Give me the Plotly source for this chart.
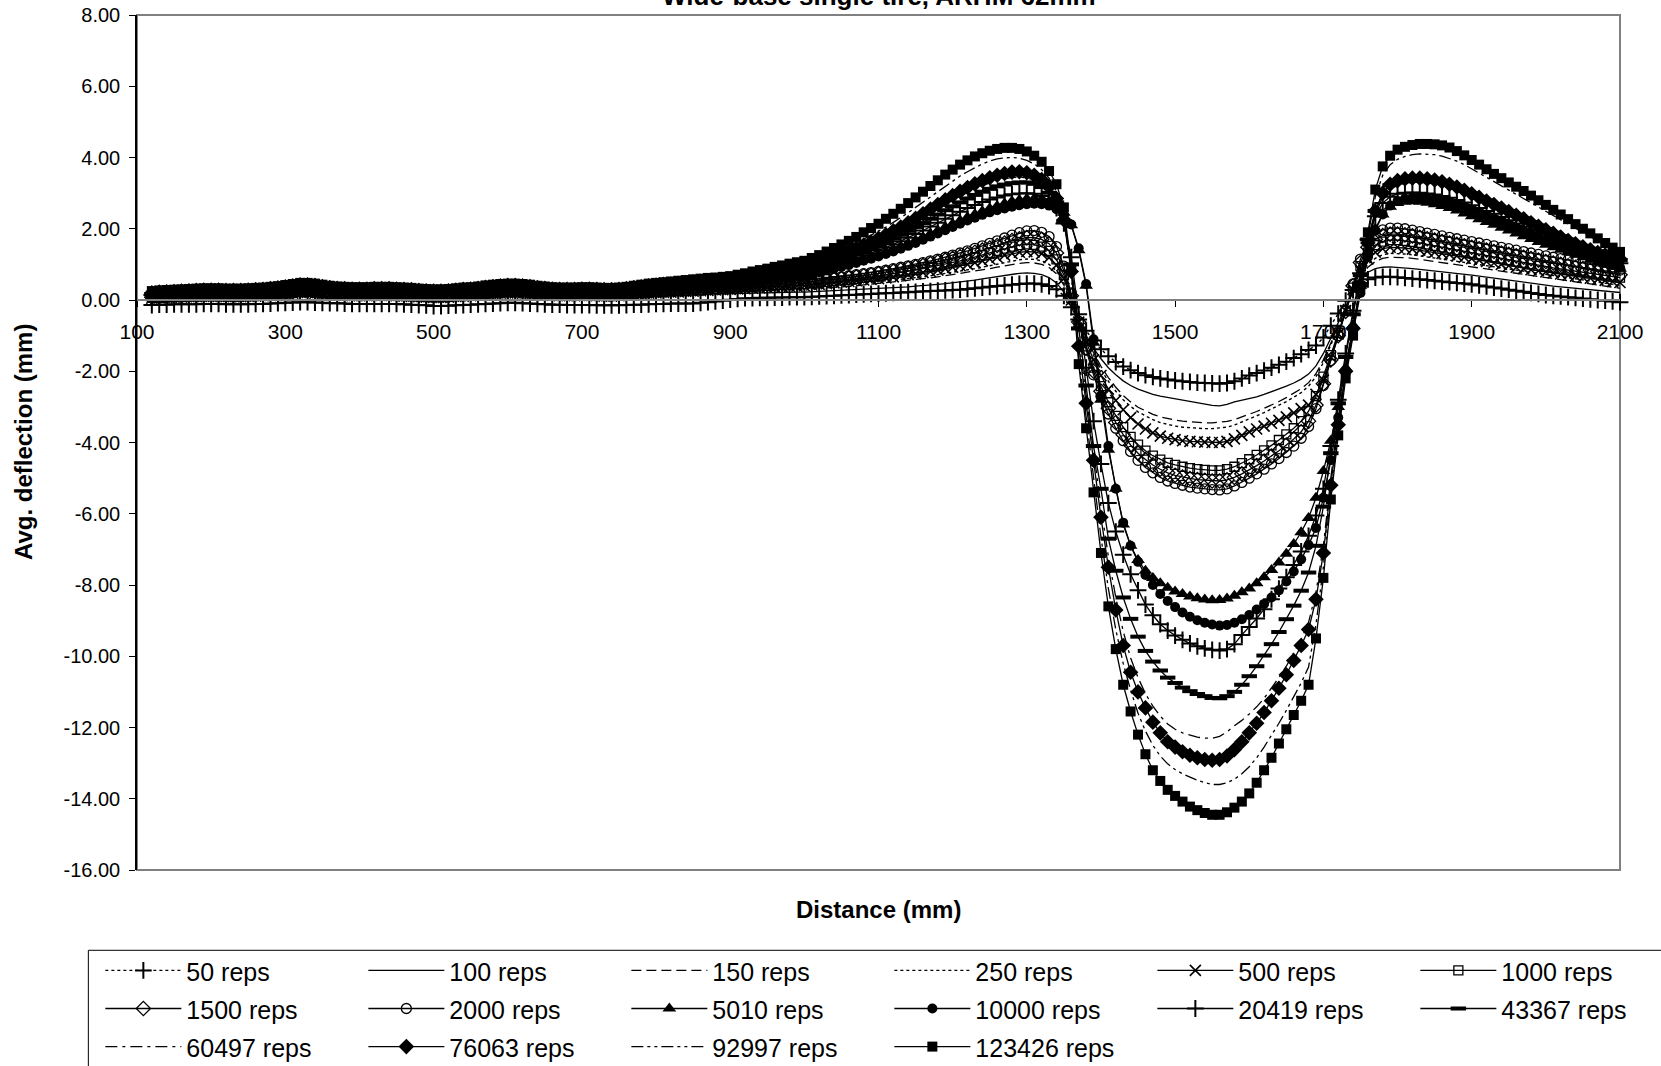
import plotly.graph_objects as go

# ---------------- data ----------------
distance_mm = [120, 130, 140, 150, 160, 170, 180, 190, 200,
               210, 220, 230, 240, 250, 260, 270, 280, 290, 300,
               310, 320, 330, 340, 350, 360, 370, 380, 390, 400,
               410, 420, 430, 440, 450, 460, 470, 480, 490, 500,
               510, 520, 530, 540, 550, 560, 570, 580, 590, 600,
               610, 620, 630, 640, 650, 660, 670, 680, 690, 700,
               710, 720, 730, 740, 750, 760, 770, 780, 790, 800,
               810, 820, 830, 840, 850, 860, 870, 880, 890, 900,
               910, 920, 930, 940, 950, 960, 970, 980, 990,
               1000, 1010, 1020, 1030, 1040, 1050, 1060, 1070, 1080, 1090, 1100, 1110, 1120, 1130, 1140, 1150, 1160,
               1170, 1180, 1190, 1200, 1210, 1220, 1230, 1240, 1250, 1260, 1270, 1280, 1290, 1300, 1310, 1320, 1330,
               1340, 1350, 1360, 1370, 1380, 1390, 1400, 1410, 1420, 1430, 1440, 1450, 1460, 1470, 1480, 1490, 1500,
               1510, 1520, 1530, 1540, 1550, 1560, 1570, 1580, 1590, 1600, 1610, 1620, 1630, 1640, 1650, 1660, 1670,
               1680, 1690, 1700, 1710, 1720, 1730, 1740, 1750, 1760, 1770, 1780, 1790, 1800, 1810, 1820, 1830, 1840,
               1850, 1860, 1870, 1880, 1890, 1900, 1910, 1920, 1930, 1940, 1950, 1960, 1970, 1980, 1990, 2000, 2010,
               2020, 2030, 2040, 2050, 2060, 2070, 2080, 2090, 2100]

reps_50 = [-0.14, -0.13, -0.13, -0.12, -0.12, -0.12, -0.12, -0.11, -0.11,
           -0.11, -0.12, -0.12, -0.12, -0.12, -0.11, -0.11, -0.10, -0.09, -0.08,
           -0.07, -0.06, -0.06, -0.07, -0.08, -0.09, -0.09, -0.10, -0.11, -0.11,
           -0.11, -0.11, -0.11, -0.11, -0.11, -0.12, -0.13, -0.14, -0.15, -0.17,
           -0.17, -0.16, -0.15, -0.14, -0.13, -0.12, -0.11, -0.10, -0.09, -0.08,
           -0.08, -0.09, -0.10, -0.11, -0.12, -0.13, -0.13, -0.14, -0.14, -0.14,
           -0.14, -0.15, -0.15, -0.15, -0.15, -0.14, -0.13, -0.13, -0.12, -0.11,
           -0.11, -0.10, -0.10, -0.10, -0.10, -0.08, -0.06, -0.04, -0.02, 0.01,
           0.03, 0.05, 0.05, 0.06, 0.06, 0.07, 0.07, 0.08, 0.08,
           0.08, 0.09, 0.10, 0.11, 0.12, 0.13, 0.14, 0.15, 0.16, 0.17,
           0.18, 0.19, 0.20, 0.21, 0.22, 0.23, 0.24, 0.25, 0.26, 0.27,
           0.28, 0.29, 0.31, 0.33, 0.35, 0.37, 0.39, 0.41, 0.43, 0.45,
           0.46, 0.46, 0.44, 0.39, 0.30, 0.12, -0.20, -0.55, -0.86, -1.14,
           -1.38, -1.58, -1.74, -1.87, -1.97, -2.05, -2.11, -2.16, -2.20, -2.23,
           -2.26, -2.28, -2.30, -2.32, -2.33, -2.34, -2.35, -2.33, -2.28, -2.20,
           -2.12, -2.05, -1.98, -1.90, -1.82, -1.73, -1.63, -1.52, -1.40, -1.28,
           -1.05, -0.72, -0.38, -0.02, 0.28, 0.48, 0.58, 0.63, 0.65, 0.65,
           0.64, 0.62, 0.60, 0.58, 0.56, 0.54, 0.52, 0.50, 0.48, 0.46,
           0.44, 0.41, 0.38, 0.35, 0.32, 0.29, 0.26, 0.23, 0.20, 0.17,
           0.14, 0.12, 0.10, 0.08, 0.06, 0.04, 0.02, 0.00, -0.02, -0.04,
           -0.06]

reps_100 = [-0.02, -0.01, 0.00, 0.01, 0.01, 0.02, 0.02, 0.03, 0.03,
            0.03, 0.02, 0.02, 0.02, 0.03, 0.04, 0.05, 0.06, 0.07, 0.08,
            0.10, 0.11, 0.11, 0.10, 0.09, 0.08, 0.07, 0.06, 0.05, 0.05,
            0.05, 0.06, 0.06, 0.06, 0.05, 0.04, 0.03, 0.02, 0.01, 0.00,
            0.00, 0.01, 0.03, 0.04, 0.05, 0.07, 0.08, 0.09, 0.10, 0.11,
            0.11, 0.10, 0.09, 0.08, 0.07, 0.06, 0.05, 0.05, 0.05, 0.06,
            0.06, 0.05, 0.04, 0.04, 0.05, 0.06, 0.07, 0.08, 0.10, 0.11,
            0.12, 0.13, 0.14, 0.15, 0.15, 0.16, 0.16, 0.17, 0.17, 0.18,
            0.18, 0.19, 0.19, 0.20, 0.20, 0.21, 0.21, 0.22, 0.22,
            0.22, 0.23, 0.24, 0.25, 0.26, 0.27, 0.28, 0.29, 0.30, 0.31,
            0.32, 0.33, 0.34, 0.36, 0.37, 0.39, 0.40, 0.42, 0.44, 0.46,
            0.48, 0.50, 0.53, 0.56, 0.59, 0.62, 0.66, 0.70, 0.73, 0.75,
            0.76, 0.75, 0.71, 0.63, 0.48, 0.22, -0.20, -0.62, -1.00, -1.35,
            -1.65, -1.90, -2.10, -2.27, -2.40, -2.50, -2.58, -2.65, -2.70, -2.74,
            -2.78, -2.82, -2.86, -2.90, -2.93, -2.96, -2.97, -2.93, -2.86, -2.82,
            -2.78, -2.72, -2.65, -2.58, -2.50, -2.42, -2.33, -2.22, -2.08, -1.85,
            -1.50, -1.08, -0.64, -0.20, 0.22, 0.56, 0.78, 0.88, 0.92, 0.93,
            0.92, 0.90, 0.88, 0.86, 0.84, 0.82, 0.80, 0.78, 0.76, 0.73,
            0.70, 0.67, 0.64, 0.61, 0.58, 0.55, 0.52, 0.49, 0.46, 0.43,
            0.41, 0.39, 0.37, 0.35, 0.33, 0.31, 0.29, 0.27, 0.25, 0.23,
            0.21]

reps_150 = [0.02, 0.03, 0.04, 0.05, 0.05, 0.06, 0.06, 0.07, 0.07,
            0.07, 0.06, 0.06, 0.06, 0.07, 0.08, 0.09, 0.10, 0.11, 0.12,
            0.14, 0.16, 0.16, 0.15, 0.13, 0.12, 0.11, 0.10, 0.09, 0.09,
            0.09, 0.10, 0.10, 0.10, 0.09, 0.08, 0.07, 0.06, 0.05, 0.04,
            0.04, 0.05, 0.07, 0.08, 0.09, 0.10, 0.12, 0.13, 0.14, 0.15,
            0.15, 0.14, 0.13, 0.12, 0.11, 0.10, 0.09, 0.09, 0.09, 0.10,
            0.10, 0.09, 0.08, 0.08, 0.09, 0.10, 0.12, 0.13, 0.15, 0.16,
            0.17, 0.18, 0.19, 0.20, 0.20, 0.21, 0.21, 0.22, 0.23, 0.24,
            0.24, 0.25, 0.25, 0.26, 0.27, 0.27, 0.28, 0.29, 0.29,
            0.30, 0.31, 0.32, 0.34, 0.35, 0.37, 0.38, 0.40, 0.42, 0.44,
            0.46, 0.48, 0.50, 0.52, 0.54, 0.56, 0.59, 0.62, 0.65, 0.68,
            0.71, 0.74, 0.77, 0.80, 0.84, 0.88, 0.92, 0.96, 1.00, 1.03,
            1.05, 1.04, 1.00, 0.91, 0.74, 0.42, -0.08, -0.58, -1.05, -1.48,
            -1.86, -2.18, -2.45, -2.68, -2.86, -3.01, -3.12, -3.21, -3.28, -3.33,
            -3.37, -3.40, -3.42, -3.44, -3.45, -3.45, -3.44, -3.41, -3.36, -3.29,
            -3.21, -3.13, -3.04, -2.95, -2.85, -2.74, -2.62, -2.49, -2.32, -2.07,
            -1.68, -1.22, -0.74, -0.24, 0.25, 0.66, 0.92, 1.08, 1.17, 1.20,
            1.20, 1.19, 1.17, 1.14, 1.11, 1.08, 1.05, 1.02, 0.99, 0.96,
            0.93, 0.90, 0.87, 0.84, 0.81, 0.78, 0.75, 0.72, 0.69, 0.66,
            0.63, 0.60, 0.57, 0.54, 0.51, 0.48, 0.45, 0.42, 0.39, 0.36,
            0.33]

reps_250 = [0.03, 0.04, 0.05, 0.06, 0.06, 0.07, 0.07, 0.08, 0.08,
            0.08, 0.07, 0.07, 0.07, 0.08, 0.09, 0.10, 0.11, 0.12, 0.14,
            0.16, 0.18, 0.18, 0.17, 0.15, 0.14, 0.12, 0.11, 0.10, 0.10,
            0.10, 0.11, 0.11, 0.11, 0.10, 0.09, 0.08, 0.07, 0.06, 0.05,
            0.05, 0.06, 0.08, 0.09, 0.10, 0.12, 0.13, 0.15, 0.16, 0.17,
            0.17, 0.16, 0.15, 0.14, 0.12, 0.11, 0.10, 0.10, 0.10, 0.11,
            0.11, 0.10, 0.09, 0.09, 0.10, 0.12, 0.13, 0.15, 0.17, 0.18,
            0.19, 0.20, 0.21, 0.22, 0.23, 0.24, 0.24, 0.25, 0.26, 0.27,
            0.28, 0.29, 0.29, 0.30, 0.31, 0.32, 0.33, 0.34, 0.34,
            0.35, 0.36, 0.37, 0.39, 0.40, 0.42, 0.43, 0.45, 0.47, 0.49,
            0.51, 0.53, 0.55, 0.57, 0.60, 0.62, 0.65, 0.68, 0.71, 0.74,
            0.77, 0.80, 0.84, 0.88, 0.92, 0.96, 1.00, 1.05, 1.10, 1.13,
            1.15, 1.14, 1.10, 1.00, 0.82, 0.48, -0.05, -0.60, -1.10, -1.55,
            -1.95, -2.28, -2.56, -2.80, -2.99, -3.14, -3.26, -3.36, -3.44, -3.50,
            -3.54, -3.57, -3.59, -3.60, -3.61, -3.61, -3.60, -3.57, -3.51, -3.43,
            -3.34, -3.25, -3.16, -3.06, -2.96, -2.85, -2.73, -2.60, -2.42, -2.15,
            -1.75, -1.28, -0.78, -0.25, 0.28, 0.72, 1.00, 1.17, 1.27, 1.31,
            1.31, 1.29, 1.27, 1.24, 1.21, 1.18, 1.15, 1.12, 1.09, 1.06,
            1.02, 0.98, 0.95, 0.92, 0.89, 0.86, 0.83, 0.80, 0.77, 0.74,
            0.71, 0.68, 0.65, 0.62, 0.59, 0.56, 0.53, 0.50, 0.47, 0.44,
            0.41]

reps_500 = [0.05, 0.06, 0.07, 0.08, 0.08, 0.09, 0.09, 0.10, 0.10,
            0.10, 0.09, 0.09, 0.09, 0.10, 0.11, 0.12, 0.13, 0.15, 0.17,
            0.19, 0.21, 0.21, 0.19, 0.17, 0.16, 0.14, 0.13, 0.12, 0.12,
            0.12, 0.13, 0.13, 0.13, 0.12, 0.11, 0.10, 0.09, 0.08, 0.07,
            0.07, 0.08, 0.10, 0.11, 0.12, 0.14, 0.16, 0.18, 0.19, 0.20,
            0.20, 0.19, 0.17, 0.16, 0.14, 0.13, 0.12, 0.12, 0.12, 0.13,
            0.13, 0.12, 0.11, 0.11, 0.12, 0.14, 0.15, 0.17, 0.19, 0.20,
            0.21, 0.22, 0.23, 0.24, 0.25, 0.26, 0.27, 0.28, 0.29, 0.30,
            0.31, 0.32, 0.33, 0.34, 0.35, 0.36, 0.37, 0.38, 0.39,
            0.40, 0.42, 0.44, 0.46, 0.48, 0.50, 0.52, 0.54, 0.56, 0.58,
            0.60, 0.62, 0.65, 0.68, 0.71, 0.74, 0.77, 0.80, 0.84, 0.88,
            0.92, 0.96, 1.00, 1.05, 1.10, 1.15, 1.20, 1.26, 1.31, 1.34,
            1.36, 1.35, 1.30, 1.19, 0.98, 0.60, 0.00, -0.62, -1.18, -1.68,
            -2.12, -2.50, -2.82, -3.08, -3.30, -3.48, -3.62, -3.73, -3.82, -3.88,
            -3.92, -3.95, -3.97, -3.98, -3.99, -4.00, -4.00, -3.97, -3.90, -3.80,
            -3.70, -3.62, -3.54, -3.46, -3.38, -3.28, -3.17, -3.05, -2.95, -2.65,
            -2.25, -1.60, -0.95, -0.30, 0.30, 0.82, 1.15, 1.34, 1.44, 1.48,
            1.48, 1.46, 1.43, 1.40, 1.37, 1.34, 1.31, 1.28, 1.24, 1.20,
            1.16, 1.12, 1.08, 1.04, 1.00, 0.96, 0.92, 0.88, 0.85, 0.82,
            0.79, 0.76, 0.73, 0.70, 0.67, 0.64, 0.61, 0.58, 0.55, 0.52,
            0.49]

reps_1000 = [0.06, 0.07, 0.08, 0.09, 0.10, 0.11, 0.11, 0.12, 0.12,
             0.12, 0.11, 0.11, 0.11, 0.12, 0.13, 0.14, 0.15, 0.17, 0.19,
             0.21, 0.24, 0.24, 0.22, 0.20, 0.18, 0.16, 0.15, 0.14, 0.14,
             0.14, 0.15, 0.15, 0.15, 0.14, 0.13, 0.12, 0.11, 0.10, 0.09,
             0.09, 0.10, 0.12, 0.13, 0.14, 0.16, 0.18, 0.20, 0.22, 0.23,
             0.23, 0.22, 0.20, 0.18, 0.16, 0.15, 0.14, 0.14, 0.14, 0.15,
             0.15, 0.14, 0.13, 0.13, 0.14, 0.16, 0.18, 0.20, 0.22, 0.23,
             0.24, 0.25, 0.26, 0.27, 0.28, 0.29, 0.30, 0.31, 0.32, 0.33,
             0.35, 0.36, 0.37, 0.38, 0.40, 0.41, 0.42, 0.43, 0.44,
             0.45, 0.47, 0.49, 0.51, 0.53, 0.55, 0.57, 0.59, 0.62, 0.65,
             0.68, 0.71, 0.74, 0.77, 0.80, 0.84, 0.88, 0.92, 0.96, 1.00,
             1.05, 1.10, 1.15, 1.20, 1.26, 1.32, 1.38, 1.44, 1.50, 1.54,
             1.56, 1.55, 1.50, 1.38, 1.14, 0.70, 0.05, -0.65, -1.30, -1.90,
             -2.42, -2.87, -3.25, -3.57, -3.84, -4.06, -4.23, -4.37, -4.48, -4.57,
             -4.63, -4.68, -4.72, -4.75, -4.77, -4.78, -4.78, -4.75, -4.68, -4.58,
             -4.47, -4.35, -4.22, -4.08, -3.93, -3.77, -3.60, -3.40, -3.12, -2.70,
             -2.15, -1.55, -0.92, -0.30, 0.35, 0.95, 1.33, 1.54, 1.64, 1.68,
             1.68, 1.66, 1.63, 1.60, 1.56, 1.52, 1.48, 1.44, 1.40, 1.36,
             1.32, 1.28, 1.24, 1.20, 1.16, 1.12, 1.08, 1.04, 1.00, 0.96,
             0.93, 0.90, 0.87, 0.84, 0.81, 0.78, 0.75, 0.72, 0.69, 0.66,
             0.63]

reps_1500 = [0.08, 0.09, 0.10, 0.11, 0.12, 0.13, 0.13, 0.14, 0.14,
             0.14, 0.13, 0.13, 0.13, 0.14, 0.15, 0.16, 0.17, 0.19, 0.21,
             0.23, 0.26, 0.26, 0.24, 0.22, 0.20, 0.18, 0.17, 0.16, 0.16,
             0.16, 0.17, 0.17, 0.17, 0.16, 0.15, 0.14, 0.13, 0.12, 0.11,
             0.11, 0.12, 0.14, 0.15, 0.16, 0.18, 0.20, 0.22, 0.24, 0.25,
             0.25, 0.24, 0.22, 0.20, 0.18, 0.17, 0.16, 0.16, 0.16, 0.17,
             0.17, 0.16, 0.15, 0.15, 0.16, 0.18, 0.20, 0.22, 0.24, 0.26,
             0.27, 0.28, 0.29, 0.30, 0.31, 0.32, 0.34, 0.35, 0.36, 0.37,
             0.39, 0.40, 0.42, 0.43, 0.44, 0.45, 0.47, 0.48, 0.49,
             0.50, 0.52, 0.54, 0.56, 0.58, 0.60, 0.62, 0.65, 0.68, 0.71,
             0.74, 0.77, 0.81, 0.85, 0.89, 0.93, 0.97, 1.02, 1.07, 1.12,
             1.17, 1.22, 1.28, 1.34, 1.40, 1.46, 1.53, 1.60, 1.67, 1.72,
             1.75, 1.75, 1.70, 1.58, 1.32, 0.82, 0.12, -0.62, -1.35, -2.00,
             -2.56, -3.04, -3.44, -3.78, -4.07, -4.30, -4.48, -4.63, -4.75, -4.85,
             -4.92, -4.97, -5.01, -5.04, -5.06, -5.08, -5.08, -5.05, -4.98, -4.88,
             -4.77, -4.65, -4.52, -4.38, -4.23, -4.07, -3.90, -3.70, -3.40, -2.95,
             -2.35, -1.68, -1.00, -0.32, 0.40, 1.05, 1.48, 1.70, 1.81, 1.85,
             1.85, 1.83, 1.80, 1.76, 1.72, 1.68, 1.64, 1.60, 1.56, 1.52,
             1.48, 1.44, 1.40, 1.36, 1.32, 1.28, 1.24, 1.20, 1.16, 1.12,
             1.08, 1.04, 1.00, 0.96, 0.92, 0.88, 0.84, 0.80, 0.77, 0.74,
             0.71]

reps_2000 = [0.10, 0.11, 0.12, 0.13, 0.14, 0.15, 0.15, 0.16, 0.16,
             0.16, 0.15, 0.15, 0.15, 0.16, 0.17, 0.18, 0.19, 0.21, 0.23,
             0.25, 0.28, 0.28, 0.26, 0.24, 0.22, 0.20, 0.19, 0.18, 0.18,
             0.18, 0.19, 0.19, 0.19, 0.18, 0.17, 0.16, 0.15, 0.14, 0.13,
             0.13, 0.14, 0.16, 0.17, 0.18, 0.20, 0.22, 0.24, 0.26, 0.27,
             0.27, 0.26, 0.24, 0.22, 0.20, 0.19, 0.18, 0.18, 0.18, 0.19,
             0.19, 0.18, 0.17, 0.17, 0.18, 0.20, 0.22, 0.24, 0.26, 0.28,
             0.29, 0.30, 0.31, 0.33, 0.34, 0.35, 0.36, 0.38, 0.39, 0.41,
             0.42, 0.44, 0.45, 0.47, 0.48, 0.50, 0.51, 0.53, 0.54,
             0.55, 0.57, 0.59, 0.61, 0.63, 0.65, 0.68, 0.71, 0.74, 0.77,
             0.80, 0.84, 0.88, 0.92, 0.96, 1.00, 1.05, 1.10, 1.15, 1.20,
             1.26, 1.32, 1.38, 1.45, 1.52, 1.59, 1.66, 1.74, 1.82, 1.89,
             1.94, 1.95, 1.90, 1.78, 1.50, 0.95, 0.20, -0.60, -1.40, -2.10,
             -2.70, -3.20, -3.60, -3.95, -4.25, -4.50, -4.70, -4.85, -4.98, -5.08,
             -5.15, -5.20, -5.25, -5.28, -5.30, -5.32, -5.33, -5.30, -5.22, -5.12,
             -5.00, -4.88, -4.75, -4.60, -4.45, -4.28, -4.10, -3.88, -3.55, -3.05,
             -2.40, -1.70, -1.00, -0.30, 0.45, 1.15, 1.60, 1.85, 1.97, 2.02,
             2.02, 2.00, 1.96, 1.92, 1.88, 1.84, 1.80, 1.76, 1.72, 1.68,
             1.64, 1.60, 1.56, 1.52, 1.48, 1.44, 1.40, 1.36, 1.32, 1.28,
             1.24, 1.20, 1.16, 1.12, 1.08, 1.04, 1.00, 0.96, 0.92, 0.88,
             0.84]

reps_5010 = [0.13, 0.14, 0.15, 0.16, 0.17, 0.18, 0.19, 0.20, 0.20,
             0.20, 0.19, 0.19, 0.19, 0.20, 0.21, 0.22, 0.24, 0.26, 0.28,
             0.31, 0.33, 0.33, 0.31, 0.29, 0.27, 0.25, 0.24, 0.23, 0.23,
             0.23, 0.24, 0.24, 0.24, 0.23, 0.22, 0.21, 0.19, 0.18, 0.17,
             0.17, 0.18, 0.20, 0.22, 0.23, 0.25, 0.27, 0.29, 0.31, 0.32,
             0.32, 0.31, 0.29, 0.27, 0.25, 0.23, 0.22, 0.22, 0.22, 0.23,
             0.23, 0.22, 0.21, 0.21, 0.22, 0.24, 0.26, 0.28, 0.30, 0.32,
             0.34, 0.35, 0.36, 0.38, 0.39, 0.40, 0.42, 0.44, 0.46, 0.48,
             0.50, 0.53, 0.55, 0.58, 0.61, 0.64, 0.67, 0.70, 0.73,
             0.75, 0.79, 0.83, 0.88, 0.93, 0.98, 1.03, 1.09, 1.15, 1.21,
             1.28, 1.35, 1.43, 1.51, 1.59, 1.68, 1.77, 1.86, 1.95, 2.05,
             2.14, 2.23, 2.32, 2.41, 2.49, 2.57, 2.64, 2.71, 2.77, 2.81,
             2.84, 2.85, 2.83, 2.77, 2.65, 2.45, 2.10, 1.40, 0.40, -1.20,
             -2.80, -4.20, -5.30, -6.30, -6.90, -7.30, -7.60, -7.80, -7.95, -8.08,
             -8.18, -8.25, -8.32, -8.37, -8.41, -8.43, -8.42, -8.38, -8.30, -8.20,
             -8.10, -7.95, -7.78, -7.58, -7.37, -7.12, -6.85, -6.52, -6.12, -5.55,
             -4.80, -3.95, -3.00, -1.90, -0.70, 0.40, 1.35, 2.00, 2.40, 2.62,
             2.72, 2.76, 2.77, 2.76, 2.73, 2.69, 2.64, 2.58, 2.51, 2.43,
             2.35, 2.27, 2.19, 2.11, 2.03, 1.95, 1.87, 1.79, 1.71, 1.63,
             1.55, 1.48, 1.41, 1.34, 1.27, 1.20, 1.13, 1.07, 1.01, 0.95,
             0.88]

reps_10000 = [0.12, 0.13, 0.14, 0.15, 0.16, 0.17, 0.18, 0.19, 0.19,
              0.19, 0.18, 0.18, 0.18, 0.19, 0.20, 0.21, 0.23, 0.25, 0.27,
              0.30, 0.32, 0.32, 0.30, 0.28, 0.26, 0.24, 0.23, 0.22, 0.22,
              0.22, 0.23, 0.23, 0.23, 0.22, 0.21, 0.20, 0.18, 0.17, 0.16,
              0.16, 0.17, 0.19, 0.21, 0.22, 0.24, 0.26, 0.28, 0.30, 0.31,
              0.31, 0.30, 0.28, 0.26, 0.24, 0.22, 0.21, 0.21, 0.21, 0.22,
              0.22, 0.21, 0.20, 0.20, 0.21, 0.23, 0.25, 0.27, 0.29, 0.31,
              0.33, 0.34, 0.35, 0.37, 0.38, 0.39, 0.41, 0.43, 0.45, 0.47,
              0.49, 0.52, 0.54, 0.57, 0.59, 0.62, 0.64, 0.67, 0.69,
              0.70, 0.74, 0.78, 0.83, 0.88, 0.93, 0.98, 1.04, 1.10, 1.16,
              1.22, 1.29, 1.36, 1.44, 1.52, 1.60, 1.69, 1.78, 1.87, 1.96,
              2.05, 2.14, 2.23, 2.31, 2.39, 2.46, 2.52, 2.57, 2.62, 2.66,
              2.69, 2.70, 2.69, 2.65, 2.55, 2.38, 2.12, 1.45, 0.45, -1.10,
              -2.70, -4.10, -5.30, -6.25, -6.90, -7.35, -7.72, -8.00, -8.25, -8.45,
              -8.62, -8.77, -8.89, -8.99, -9.06, -9.11, -9.14, -9.12, -9.06, -8.96,
              -8.84, -8.69, -8.53, -8.35, -8.15, -7.90, -7.62, -7.28, -6.88, -6.40,
              -5.55, -4.50, -3.30, -2.05, -0.90, 0.20, 1.20, 1.95, 2.40, 2.65,
              2.78, 2.85, 2.88, 2.88, 2.86, 2.83, 2.79, 2.74, 2.68, 2.61,
              2.53, 2.45, 2.37, 2.29, 2.20, 2.11, 2.02, 1.93, 1.84, 1.75,
              1.67, 1.59, 1.51, 1.43, 1.35, 1.27, 1.19, 1.12, 1.05, 0.98,
              0.92]

reps_20419 = [0.14, 0.15, 0.16, 0.17, 0.18, 0.19, 0.20, 0.21, 0.21,
              0.21, 0.20, 0.20, 0.20, 0.21, 0.22, 0.23, 0.25, 0.27, 0.29,
              0.32, 0.35, 0.35, 0.33, 0.31, 0.28, 0.26, 0.25, 0.24, 0.24,
              0.24, 0.25, 0.25, 0.25, 0.24, 0.23, 0.22, 0.20, 0.19, 0.18,
              0.18, 0.19, 0.21, 0.23, 0.24, 0.26, 0.29, 0.31, 0.33, 0.34,
              0.34, 0.33, 0.31, 0.28, 0.26, 0.24, 0.23, 0.23, 0.23, 0.24,
              0.24, 0.23, 0.22, 0.22, 0.23, 0.25, 0.28, 0.30, 0.32, 0.34,
              0.36, 0.37, 0.38, 0.40, 0.41, 0.42, 0.44, 0.46, 0.48, 0.50,
              0.52, 0.55, 0.58, 0.61, 0.64, 0.67, 0.70, 0.74, 0.77,
              0.80, 0.84, 0.89, 0.94, 0.99, 1.05, 1.11, 1.17, 1.24, 1.31,
              1.39, 1.47, 1.56, 1.65, 1.75, 1.85, 1.95, 2.06, 2.17, 2.28,
              2.38, 2.48, 2.58, 2.67, 2.75, 2.82, 2.88, 2.93, 2.97, 2.99,
              3.00, 2.98, 2.92, 2.80, 2.58, 2.15, 1.20, -0.40, -1.90, -3.40,
              -4.60, -5.70, -6.50, -7.15, -7.70, -8.15, -8.55, -8.85, -9.10, -9.28,
              -9.42, -9.54, -9.64, -9.72, -9.78, -9.82, -9.84, -9.80, -9.66, -9.40,
              -9.18, -8.94, -8.68, -8.40, -8.10, -7.78, -7.44, -7.06, -6.62, -6.05,
              -5.30, -4.10, -2.80, -1.50, -0.30, 0.75, 1.70, 2.35, 2.72, 2.90,
              2.98, 3.01, 3.02, 3.01, 2.99, 2.96, 2.92, 2.87, 2.81, 2.74,
              2.66, 2.58, 2.50, 2.42, 2.33, 2.24, 2.15, 2.06, 1.97, 1.88,
              1.79, 1.71, 1.63, 1.55, 1.47, 1.39, 1.31, 1.24, 1.17, 1.10,
              1.03]

reps_43367 = [0.16, 0.18, 0.19, 0.20, 0.21, 0.22, 0.23, 0.24, 0.24,
              0.24, 0.23, 0.23, 0.23, 0.24, 0.25, 0.26, 0.28, 0.30, 0.32,
              0.35, 0.38, 0.38, 0.36, 0.34, 0.31, 0.29, 0.28, 0.27, 0.27,
              0.27, 0.28, 0.28, 0.28, 0.27, 0.26, 0.25, 0.23, 0.22, 0.21,
              0.21, 0.22, 0.24, 0.26, 0.27, 0.29, 0.32, 0.34, 0.36, 0.37,
              0.37, 0.36, 0.34, 0.31, 0.29, 0.27, 0.26, 0.26, 0.26, 0.27,
              0.27, 0.26, 0.25, 0.25, 0.26, 0.28, 0.31, 0.33, 0.35, 0.37,
              0.39, 0.40, 0.42, 0.43, 0.45, 0.46, 0.48, 0.49, 0.51, 0.53,
              0.55, 0.58, 0.61, 0.64, 0.68, 0.72, 0.76, 0.79, 0.82,
              0.85, 0.90, 0.96, 1.02, 1.08, 1.15, 1.22, 1.29, 1.37, 1.45,
              1.54, 1.63, 1.73, 1.83, 1.94, 2.05, 2.16, 2.28, 2.40, 2.52,
              2.63, 2.74, 2.85, 2.95, 3.04, 3.12, 3.19, 3.24, 3.28, 3.30,
              3.30, 3.26, 3.17, 3.01, 2.74, 2.20, 1.00, -0.80, -2.40, -4.10,
              -5.30, -6.70, -7.60, -8.35, -8.95, -9.45, -9.85, -10.15, -10.40, -10.60,
              -10.75, -10.88, -10.98, -11.06, -11.12, -11.17, -11.18, -11.12, -11.00, -10.80,
              -10.56, -10.28, -9.98, -9.66, -9.32, -8.96, -8.58, -8.16, -7.65, -6.90,
              -5.80, -4.30, -2.90, -1.60, -0.40, 0.70, 1.70, 2.50, 3.00, 3.22,
              3.30, 3.33, 3.34, 3.34, 3.33, 3.31, 3.28, 3.23, 3.16, 3.08,
              2.99, 2.89, 2.79, 2.69, 2.59, 2.49, 2.39, 2.29, 2.19, 2.09,
              1.99, 1.89, 1.79, 1.70, 1.61, 1.52, 1.44, 1.36, 1.28, 1.20,
              1.12]

reps_60497 = [0.18, 0.20, 0.21, 0.22, 0.23, 0.24, 0.25, 0.26, 0.26,
              0.26, 0.25, 0.25, 0.25, 0.26, 0.27, 0.28, 0.30, 0.32, 0.35,
              0.38, 0.41, 0.41, 0.39, 0.36, 0.33, 0.31, 0.30, 0.29, 0.29,
              0.29, 0.30, 0.30, 0.30, 0.29, 0.28, 0.27, 0.25, 0.24, 0.23,
              0.23, 0.24, 0.26, 0.28, 0.29, 0.31, 0.34, 0.36, 0.38, 0.39,
              0.39, 0.38, 0.36, 0.33, 0.31, 0.29, 0.28, 0.28, 0.28, 0.29,
              0.29, 0.28, 0.27, 0.27, 0.28, 0.30, 0.33, 0.35, 0.38, 0.40,
              0.42, 0.43, 0.45, 0.46, 0.48, 0.49, 0.51, 0.52, 0.54, 0.56,
              0.59, 0.62, 0.65, 0.68, 0.72, 0.76, 0.80, 0.84, 0.87,
              0.90, 0.96, 1.02, 1.09, 1.16, 1.23, 1.31, 1.39, 1.48, 1.57,
              1.66, 1.76, 1.86, 1.97, 2.08, 2.20, 2.32, 2.44, 2.56, 2.68,
              2.80, 2.91, 3.02, 3.12, 3.21, 3.29, 3.36, 3.41, 3.44, 3.45,
              3.43, 3.37, 3.26, 3.08, 2.78, 2.20, 0.85, -1.10, -2.70, -4.20,
              -5.80, -7.20, -8.35, -9.30, -10.05, -10.60, -11.05, -11.40, -11.68, -11.90,
              -12.05, -12.15, -12.22, -12.27, -12.30, -12.30, -12.25, -12.12, -11.95, -11.80,
              -11.62, -11.42, -11.18, -10.90, -10.60, -10.28, -9.92, -9.52, -9.05, -8.20,
              -6.90, -5.00, -3.30, -1.90, -0.70, 0.45, 1.55, 2.40, 2.90, 3.15,
              3.27, 3.33, 3.35, 3.35, 3.33, 3.30, 3.25, 3.18, 3.10, 3.01,
              2.91, 2.81, 2.71, 2.61, 2.51, 2.41, 2.31, 2.21, 2.11, 2.01,
              1.91, 1.82, 1.73, 1.64, 1.55, 1.47, 1.39, 1.31, 1.24, 1.17,
              1.10]

reps_76063 = [0.20, 0.22, 0.23, 0.24, 0.25, 0.26, 0.27, 0.28, 0.28,
              0.28, 0.27, 0.27, 0.27, 0.28, 0.29, 0.30, 0.32, 0.34, 0.37,
              0.40, 0.43, 0.43, 0.41, 0.38, 0.35, 0.33, 0.32, 0.31, 0.31,
              0.31, 0.32, 0.32, 0.32, 0.31, 0.30, 0.29, 0.27, 0.26, 0.25,
              0.25, 0.26, 0.28, 0.30, 0.31, 0.33, 0.36, 0.38, 0.40, 0.41,
              0.41, 0.40, 0.38, 0.35, 0.33, 0.31, 0.30, 0.30, 0.30, 0.31,
              0.31, 0.30, 0.29, 0.29, 0.30, 0.32, 0.35, 0.37, 0.40, 0.42,
              0.44, 0.45, 0.47, 0.49, 0.51, 0.52, 0.54, 0.55, 0.57, 0.59,
              0.62, 0.65, 0.69, 0.72, 0.76, 0.80, 0.84, 0.88, 0.92,
              0.95, 1.01, 1.07, 1.14, 1.21, 1.29, 1.37, 1.45, 1.54, 1.63,
              1.73, 1.83, 1.94, 2.05, 2.17, 2.29, 2.42, 2.55, 2.68, 2.81,
              2.93, 3.05, 3.16, 3.26, 3.35, 3.43, 3.50, 3.55, 3.59, 3.60,
              3.57, 3.50, 3.38, 3.18, 2.85, 2.25, 0.80, -1.30, -2.90, -4.50,
              -6.10, -7.50, -8.70, -9.70, -10.45, -11.00, -11.45, -11.85, -12.15, -12.40,
              -12.55, -12.68, -12.78, -12.85, -12.90, -12.92, -12.90, -12.80, -12.62, -12.40,
              -12.15, -11.88, -11.58, -11.25, -10.90, -10.52, -10.12, -9.70, -9.25, -8.40,
              -7.10, -5.20, -3.50, -2.00, -0.80, 0.40, 1.60, 2.50, 3.00, 3.25,
              3.35, 3.40, 3.42, 3.42, 3.40, 3.37, 3.32, 3.25, 3.17, 3.08,
              2.98, 2.88, 2.78, 2.68, 2.58, 2.48, 2.38, 2.28, 2.17, 2.07,
              1.97, 1.87, 1.77, 1.67, 1.58, 1.49, 1.41, 1.33, 1.26, 1.20,
              1.15]

reps_92997 = [0.22, 0.24, 0.25, 0.26, 0.27, 0.28, 0.29, 0.30, 0.30,
              0.30, 0.29, 0.29, 0.29, 0.30, 0.31, 0.32, 0.34, 0.36, 0.39,
              0.42, 0.45, 0.45, 0.43, 0.40, 0.37, 0.35, 0.34, 0.33, 0.33,
              0.33, 0.34, 0.34, 0.34, 0.33, 0.32, 0.31, 0.29, 0.28, 0.27,
              0.27, 0.28, 0.30, 0.32, 0.33, 0.35, 0.38, 0.40, 0.42, 0.43,
              0.43, 0.42, 0.40, 0.37, 0.35, 0.33, 0.32, 0.32, 0.32, 0.33,
              0.33, 0.32, 0.31, 0.31, 0.32, 0.34, 0.37, 0.40, 0.43, 0.45,
              0.47, 0.48, 0.50, 0.52, 0.54, 0.55, 0.57, 0.58, 0.60, 0.62,
              0.65, 0.69, 0.73, 0.77, 0.81, 0.85, 0.89, 0.93, 0.97,
              1.00, 1.07, 1.14, 1.22, 1.31, 1.40, 1.50, 1.60, 1.71, 1.82,
              1.93, 2.05, 2.18, 2.31, 2.45, 2.60, 2.75, 2.90, 3.05, 3.20,
              3.34, 3.48, 3.60, 3.72, 3.82, 3.90, 3.96, 3.99, 4.00, 3.98,
              3.92, 3.82, 3.66, 3.42, 3.05, 2.40, 0.70, -1.60, -3.30, -5.00,
              -6.65, -8.10, -9.25, -10.20, -10.95, -11.60, -12.10, -12.50, -12.80, -13.02,
              -13.18, -13.30, -13.40, -13.48, -13.55, -13.60, -13.60, -13.55, -13.45, -13.30,
              -13.10, -12.85, -12.55, -12.22, -11.88, -11.52, -11.15, -10.75, -10.30, -9.10,
              -7.50, -5.40, -3.60, -2.10, -0.90, 0.40, 1.80, 2.90, 3.50, 3.80,
              3.95, 4.03, 4.08, 4.10, 4.10, 4.08, 4.04, 3.98, 3.90, 3.80,
              3.68, 3.56, 3.44, 3.32, 3.20, 3.08, 2.96, 2.84, 2.72, 2.60,
              2.48, 2.36, 2.24, 2.12, 2.00, 1.88, 1.76, 1.64, 1.52, 1.41,
              1.30]

reps_123426 = [0.25, 0.27, 0.28, 0.29, 0.30, 0.31, 0.32, 0.33, 0.33,
               0.33, 0.32, 0.32, 0.32, 0.33, 0.34, 0.35, 0.37, 0.39, 0.42,
               0.45, 0.48, 0.48, 0.46, 0.43, 0.40, 0.38, 0.37, 0.36, 0.36,
               0.36, 0.37, 0.37, 0.37, 0.36, 0.35, 0.34, 0.32, 0.31, 0.30,
               0.30, 0.31, 0.33, 0.35, 0.36, 0.38, 0.41, 0.43, 0.45, 0.46,
               0.46, 0.45, 0.43, 0.40, 0.38, 0.36, 0.35, 0.35, 0.35, 0.36,
               0.36, 0.35, 0.34, 0.34, 0.35, 0.37, 0.40, 0.43, 0.46, 0.48,
               0.50, 0.52, 0.54, 0.56, 0.58, 0.60, 0.62, 0.63, 0.65, 0.67,
               0.71, 0.75, 0.80, 0.84, 0.88, 0.93, 0.97, 1.02, 1.06,
               1.10, 1.18, 1.26, 1.36, 1.46, 1.56, 1.66, 1.77, 1.90, 2.02,
               2.14, 2.28, 2.42, 2.56, 2.72, 2.88, 3.04, 3.20, 3.36, 3.52,
               3.66, 3.80, 3.92, 4.03, 4.12, 4.19, 4.24, 4.27, 4.27, 4.24,
               4.17, 4.05, 3.88, 3.62, 3.25, 2.60, 0.90, -1.80, -3.60, -5.40,
               -7.10, -8.60, -9.80, -10.80, -11.55, -12.20, -12.75, -13.20, -13.50, -13.75,
               -13.92, -14.08, -14.22, -14.32, -14.40, -14.45, -14.45, -14.38, -14.25, -14.08,
               -13.85, -13.55, -13.20, -12.85, -12.45, -12.05, -11.65, -11.25, -10.80, -9.50,
               -7.80, -5.60, -3.80, -2.20, -1.00, 0.40, 1.90, 3.10, 3.75, 4.05,
               4.22, 4.30, 4.35, 4.38, 4.38, 4.37, 4.34, 4.28, 4.18, 4.06,
               3.93, 3.80, 3.67, 3.54, 3.42, 3.30, 3.18, 3.06, 2.93, 2.80,
               2.67, 2.53, 2.40, 2.27, 2.13, 2.00, 1.87, 1.73, 1.60, 1.47,
               1.35]

series_names = ["50 reps", "100 reps", "150 reps", "250 reps", "500 reps", "1000 reps", "1500 reps", "2000 reps",
                "5010 reps", "10000 reps", "20419 reps", "43367 reps", "60497 reps", "76063 reps", "92997 reps",
                "123426 reps"]
series_values = [reps_50, reps_100, reps_150, reps_250, reps_500, reps_1000, reps_1500, reps_2000, reps_5010,
                 reps_10000, reps_20419, reps_43367, reps_60497, reps_76063, reps_92997, reps_123426]

x_tick_values = [100, 300, 500, 700, 900, 1100, 1300, 1500, 1700, 1900, 2100]
x_tick_labels = ["100", "300", "500", "700", "900", "1100", "1300", "1500", "1700", "1900", "2100"]
y_tick_values = [-16, -14, -12, -10, -8, -6, -4, -2, 0, 2, 4, 6, 8]
y_tick_labels = ["-16.00", "-14.00", "-12.00", "-10.00", "-8.00", "-6.00", "-4.00", "-2.00", "0.00", "2.00",
                 "4.00", "6.00", "8.00"]

chart_title = "Wide-base single tire, ARHM 62mm"
x_title = "Distance (mm)"
y_title = "Avg. deflection (mm)"

for name, vals in zip(series_names, series_values):
    assert len(vals) == len(distance_mm), (name, len(vals), len(distance_mm))

# ---------------- styles ----------------
FONT = "Liberation Sans, Arial, sans-serif"
BLACK = "black"


def mk(symbol, size, lw=0.0):
    return dict(symbol=symbol, size=size, color=BLACK, line=dict(color=BLACK, width=lw))


styles = [
    ("dot", 1.4, mk("cross-thin", 12, 2.0)),
    ("solid", 1.3, None),
    ("10px,5px", 1.3, None),
    ("3px,3px", 1.4, None),
    ("solid", 1.3, mk("x-thin", 11, 1.6)),
    ("solid", 1.3, mk("square-open", 9, 1.3)),
    ("solid", 1.3, mk("diamond-open", 11, 1.3)),
    ("solid", 1.3, mk("circle-open", 10, 1.3)),
    ("solid", 1.3, mk("triangle-up", 12)),
    ("solid", 1.3, mk("circle", 10)),
    ("solid", 1.3, mk("cross-thin", 12, 2.0)),
    ("solid", 1.3, mk("line-ew", 11, 4)),
    ("12px,5px,3px,5px", 1.3, None),
    ("solid", 1.3, mk("diamond", 12)),
    ("12px,4px,3px,4px,3px,4px", 1.3, None),
    ("solid", 1.3, mk("square", 10)),
]

fig = go.Figure()
for name, vals, (dash, lw, marker) in zip(series_names, series_values, styles):
    kw = dict(
        x=distance_mm, y=vals,
        name='<span style="font-size:25px">' + name + '</span>',
        line=dict(color=BLACK, width=lw, dash=dash),
        cliponaxis=False,
    )
    if marker is None:
        kw["mode"] = "lines"
    else:
        kw["mode"] = "lines+markers"
        kw["marker"] = marker
    fig.add_trace(go.Scatter(**kw))

# legend frame (top-left corner at 88, 950 px; right/bottom run off the page)
LEG_X = -0.0328
LEG_TOP = -0.0939

fig.update_layout(
    width=1661, height=1066,
    margin=dict(l=137, r=41, t=15, b=196, autoexpand=False),
    paper_bgcolor="white", plot_bgcolor="white",
    font=dict(family=FONT, color=BLACK),
    showlegend=True,
    legend=dict(
        orientation="h", x=LEG_X, y=-0.0893, xanchor="left", yanchor="top",
        borderwidth=0, bgcolor="rgba(0,0,0,0)",
        font=dict(size=27, family=FONT, color=BLACK),
        itemwidth=76, entrywidth=160, entrywidthmode="pixels",
        traceorder="normal", indentation=12,
    ),
    xaxis=dict(
        range=[100, 2100], anchor="free", position=16 / 24,
        tickmode="array", tickvals=x_tick_values, ticktext=x_tick_labels,
        ticks="outside", ticklen=6, tickcolor=BLACK, tickwidth=1,
        showline=True, linecolor="#808080", linewidth=1.5,
        showgrid=False, zeroline=False,
        tickfont=dict(size=21, family=FONT, color=BLACK),
        ticklabelstandoff=7,
    ),
    yaxis=dict(
        range=[-16, 8],
        tickmode="array", tickvals=y_tick_values, ticktext=y_tick_labels,
        ticks="outside", ticklen=6, tickcolor=BLACK, tickwidth=1,
        showline=True, linecolor=BLACK, linewidth=1.5,
        showgrid=False, zeroline=False,
        tickfont=dict(size=20, family=FONT, color=BLACK),
        ticklabelstandoff=5,
    ),
    shapes=[
        dict(type="rect", xref="x domain", yref="y domain", x0=0, x1=1, y0=0, y1=1,
             line=dict(color="#808080", width=2), layer="below"),
        dict(type="rect", xref="paper", yref="paper", x0=LEG_X, x1=1.2, y0=-0.5, y1=LEG_TOP,
             line=dict(color=BLACK, width=1), fillcolor="rgba(0,0,0,0)", layer="above"),
    ],
    annotations=[
        dict(text="<b>" + chart_title + "</b>", xref="paper", yref="paper", x=0.5, y=1,
             xanchor="center", yanchor="bottom", yshift=2, showarrow=False,
             font=dict(size=26, family=FONT, color=BLACK)),
        dict(text="<b>" + x_title + "</b>", xref="paper", yref="paper", x=0.5, y=-0.046,
             xanchor="center", yanchor="middle", showarrow=False,
             font=dict(size=24, family=FONT, color=BLACK)),
        dict(text="<b>" + y_title + "</b>", xref="paper", yref="paper", x=-0.0765, y=0.5,
             xanchor="center", yanchor="middle", textangle=-90, showarrow=False,
             font=dict(size=24, family=FONT, color=BLACK)),
    ],
)

fig.write_html("out.html")
